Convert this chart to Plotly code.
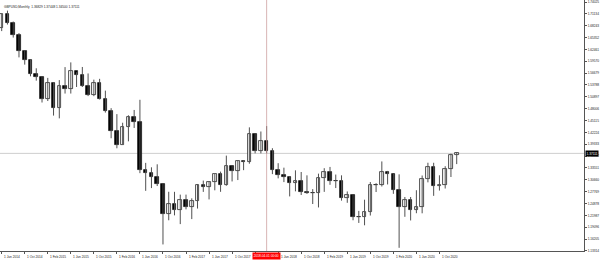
import plotly.graph_objects as go

# ---------------- data ----------------
months = [
    "2014-06", "2014-07", "2014-08", "2014-09", "2014-10", "2014-11", "2014-12",
    "2015-01", "2015-02", "2015-03", "2015-04", "2015-05", "2015-06", "2015-07",
    "2015-08", "2015-09", "2015-10", "2015-11", "2015-12",
    "2016-01", "2016-02", "2016-03", "2016-04", "2016-05", "2016-06", "2016-07",
    "2016-08", "2016-09", "2016-10", "2016-11", "2016-12",
    "2017-01", "2017-02", "2017-03", "2017-04", "2017-05", "2017-06", "2017-07",
    "2017-08", "2017-09", "2017-10", "2017-11", "2017-12",
    "2018-01", "2018-02", "2018-03", "2018-04", "2018-05", "2018-06", "2018-07",
    "2018-08", "2018-09", "2018-10", "2018-11", "2018-12",
    "2019-01", "2019-02", "2019-03", "2019-04", "2019-05", "2019-06", "2019-07",
    "2019-08", "2019-09", "2019-10", "2019-11", "2019-12",
    "2020-01", "2020-02", "2020-03", "2020-04", "2020-05", "2020-06", "2020-07",
    "2020-08", "2020-09", "2020-10", "2020-11", "2020-12",
    "2021-01",
]
opens = [
    1.6760, 1.7107, 1.6881, 1.6595, 1.6213, 1.5997, 1.5640,
    1.5577, 1.5035, 1.5434, 1.4819, 1.5349, 1.5283, 1.5711,
    1.5617, 1.5353, 1.5126, 1.5425, 1.5045,
    1.4736, 1.4246, 1.3918, 1.4366, 1.4610, 1.4483, 1.3312,
    1.3230, 1.3130, 1.2970, 1.2237, 1.2481,
    1.2340, 1.2575, 1.2410, 1.2550, 1.2947, 1.2886, 1.3025,
    1.3207, 1.2932, 1.3398, 1.3284, 1.3527,
    1.3513, 1.4189, 1.3768, 1.4025, 1.3767, 1.3297, 1.3190,
    1.3124, 1.2996, 1.3035, 1.2766, 1.2746,
    1.2756, 1.3106, 1.3260, 1.3033, 1.3043, 1.2626, 1.2697,
    1.2166, 1.2161, 1.2292, 1.2943, 1.2931,
    1.3257, 1.3206, 1.2824, 1.2402, 1.2582, 1.2340, 1.2399,
    1.3088, 1.3374, 1.2916, 1.2947, 1.3325,
    1.36829,
]
highs = [
    1.7110, 1.7192, 1.6926, 1.6644, 1.6227, 1.6007, 1.5786,
    1.5588, 1.5552, 1.5451, 1.5498, 1.5815, 1.5930, 1.5690,
    1.5818, 1.5660, 1.5509, 1.5529, 1.5241,
    1.4814, 1.4668, 1.4459, 1.4640, 1.4770, 1.5018, 1.3480,
    1.3372, 1.3445, 1.2976, 1.2775, 1.2774,
    1.2706, 1.2706, 1.2615, 1.2965, 1.3048, 1.3030, 1.3208,
    1.3267, 1.3657, 1.3400, 1.3537, 1.3549,
    1.4346, 1.4190, 1.4245, 1.4377, 1.3837, 1.3472, 1.3363,
    1.3159, 1.3298, 1.3257, 1.3176, 1.2840,
    1.3217, 1.3350, 1.3381, 1.3195, 1.3176, 1.2783, 1.2708,
    1.2309, 1.2582, 1.3013, 1.2985, 1.3515,
    1.3284, 1.3212, 1.3200, 1.2648, 1.2648, 1.2813, 1.3172,
    1.3483, 1.3482, 1.3177, 1.3398, 1.3704,
    1.37448,
]
lows = [
    1.6693, 1.6852, 1.6535, 1.6052, 1.5875, 1.5590, 1.5485,
    1.4952, 1.4988, 1.4633, 1.4565, 1.5170, 1.5170, 1.5330,
    1.5330, 1.5108, 1.5106, 1.5025, 1.4706,
    1.4080, 1.3836, 1.3930, 1.4005, 1.4331, 1.3229, 1.2798,
    1.2865, 1.2915, 1.1491, 1.2080, 1.2200,
    1.1987, 1.2346, 1.2109, 1.2366, 1.2772, 1.2589, 1.2811,
    1.2774, 1.2923, 1.3027, 1.3061, 1.3302,
    1.3459, 1.3712, 1.3711, 1.3711, 1.3205, 1.3102, 1.3011,
    1.2662, 1.2786, 1.2696, 1.2723, 1.2477,
    1.2393, 1.2773, 1.2945, 1.2866, 1.2559, 1.2506, 1.2080,
    1.2015, 1.1958, 1.2196, 1.2769, 1.2904,
    1.2954, 1.2725, 1.1409, 1.2165, 1.2076, 1.2252, 1.2250,
    1.3005, 1.2676, 1.2805, 1.2855, 1.3135,
    1.34500,
]
closes = [
    1.7106, 1.6881, 1.6595, 1.6213, 1.5997, 1.5640, 1.5577,
    1.5035, 1.5434, 1.4819, 1.5349, 1.5283, 1.5711, 1.5617,
    1.5353, 1.5126, 1.5425, 1.5045, 1.4736,
    1.4246, 1.3918, 1.4366, 1.4610, 1.4483, 1.3312, 1.3230,
    1.3130, 1.2970, 1.2237, 1.2481, 1.2340,
    1.2575, 1.2410, 1.2550, 1.2947, 1.2886, 1.3025, 1.3207,
    1.2932, 1.3398, 1.3284, 1.3527, 1.3513,
    1.4189, 1.3768, 1.4025, 1.3767, 1.3297, 1.3190, 1.3124,
    1.2996, 1.3035, 1.2766, 1.2746, 1.2756,
    1.3106, 1.3260, 1.3033, 1.3043, 1.2626, 1.2697, 1.2166,
    1.2161, 1.2292, 1.2943, 1.2931, 1.3257,
    1.3206, 1.2824, 1.2402, 1.2582, 1.2340, 1.2399, 1.3088,
    1.3374, 1.2916, 1.2947, 1.3325, 1.3671,
    1.37111,
]

# tick marks every 4 months; the "1 Feb 2018" label sits under the red cursor box
xtick_months = ["2014-06", "2014-10", "2015-02", "2015-06", "2015-10", "2016-02",
                "2016-06", "2016-10", "2017-02", "2017-06", "2017-10", "2018-02",
                "2018-06", "2018-10", "2019-02", "2019-06", "2019-10", "2020-02",
                "2020-06", "2020-10"]
xtick_labels = ["1 Jun 2014", "1 Oct 2014", "1 Feb 2015", "1 Jun 2015", "1 Oct 2015",
                "1 Feb 2016", "1 Jun 2016", "1 Oct 2016", "1 Feb 2017", "1 Jun 2017",
                "1 Oct 2017", "", "1 Jun 2018", "1 Oct 2018", "1 Feb 2019",
                "1 Jun 2019", "1 Oct 2019", "1 Feb 2020", "1 Jun 2020", "1 Oct 2020"]
ytick_vals = [1.74025, 1.71134, 1.68243, 1.65352, 1.62461, 1.59570, 1.56679,
              1.53788, 1.50897, 1.48006, 1.45115, 1.42224, 1.39333, 1.36442,
              1.33551, 1.30660, 1.27769, 1.24878, 1.21987, 1.19096, 1.16205,
              1.13314]

title_text = "GBPUSD,Monthly  1.36829 1.37448 1.34500 1.37111"
last_price = 1.37111
cursor_month = "2018-04"
cursor_label = "2018.04.01 00:00"

# ---------------- figure ----------------
FONT = "Liberation Sans"
FS = 3.2
xs = list(range(len(months)))

wx, wy = [], []
for i in xs:
    wx += [i, i, None]
    wy += [lows[i], highs[i], None]

bodies_h = [max(abs(c - o), 0.0006) for o, c in zip(opens, closes)]
bodies_b = [min(o, c) for o, c in zip(opens, closes)]
body_col = ["#ffffff" if c >= o else "#000000" for o, c in zip(opens, closes)]

fig = go.Figure()
fig.add_trace(go.Scatter(x=wx, y=wy, mode="lines",
                         line=dict(color="#505050", width=1),
                         hoverinfo="skip", showlegend=False))
fig.add_trace(go.Bar(x=xs, y=bodies_h, base=bodies_b, width=0.62,
                     marker=dict(color=body_col, line=dict(color="#222222", width=0.8)),
                     showlegend=False))

xt_idx = [months.index(m) for m in xtick_months]
cur_idx = months.index(cursor_month)

# last price line
fig.add_shape(type="line", xref="paper", x0=0, x1=1, yref="y", y0=last_price, y1=last_price,
              line=dict(color="#cfcfcf", width=1), layer="below")
# cursor vertical line
fig.add_shape(type="line", xref="x", x0=cur_idx, x1=cur_idx, yref="paper", y0=0, y1=1,
              line=dict(color="rgba(200,150,150,0.7)", width=1), layer="above")

ann = []
for i, lab in zip(xt_idx, xtick_labels):
    if not lab:
        continue
    ann.append(dict(x=i, xref="x", y=0, yref="paper", yanchor="top", xanchor="left",
                    text=lab, showarrow=False, xshift=0.5, yshift=-1.5,
                    font=dict(family=FONT, size=FS, color="#222222")))
ann.append(dict(x=cur_idx, xref="x", y=0, yref="paper", yanchor="top", xanchor="center",
                text=cursor_label, showarrow=False, yshift=-0.5, bgcolor="#ff0000",
                borderpad=0.8, font=dict(family=FONT, size=FS, color="#ffffff")))
ann.append(dict(x=1, xref="paper", y=last_price, yref="y", xanchor="left", yanchor="middle",
                text=f"{last_price:.5f}", showarrow=False, xshift=0.5, bgcolor="#000000",
                borderpad=0.6, font=dict(family=FONT, size=FS, color="#ffffff")))
ann.append(dict(x=0, xref="paper", y=1, yref="paper", xanchor="left", yanchor="top",
                text=title_text, showarrow=False, xshift=2, yshift=-2.5,
                font=dict(family=FONT, size=FS, color="#222222")))

fig.update_layout(
    width=600, height=260, autosize=False,
    margin=dict(l=0, r=16, t=0, b=8.5, pad=0),
    paper_bgcolor="#ffffff", plot_bgcolor="#ffffff",
    bargap=0, annotations=ann, showlegend=False,
    xaxis=dict(range=[-0.295, 101.1], showgrid=False, zeroline=False,
               showline=True, linecolor="#555555", linewidth=1,
               ticks="outside", ticklen=2, tickcolor="#555555", tickwidth=1,
               tickvals=xt_idx, showticklabels=False, fixedrange=True),
    yaxis=dict(range=[1.1331, 1.74512], side="right", showgrid=False, zeroline=False,
               showline=True, linecolor="#555555", linewidth=1,
               ticks="outside", ticklen=2, tickcolor="#555555", tickwidth=1,
               tickvals=ytick_vals, ticktext=[f"{v:.5f}" for v in ytick_vals],
               tickfont=dict(family=FONT, size=FS, color="#222222"), fixedrange=True),
)

fig.write_html("out.html")
